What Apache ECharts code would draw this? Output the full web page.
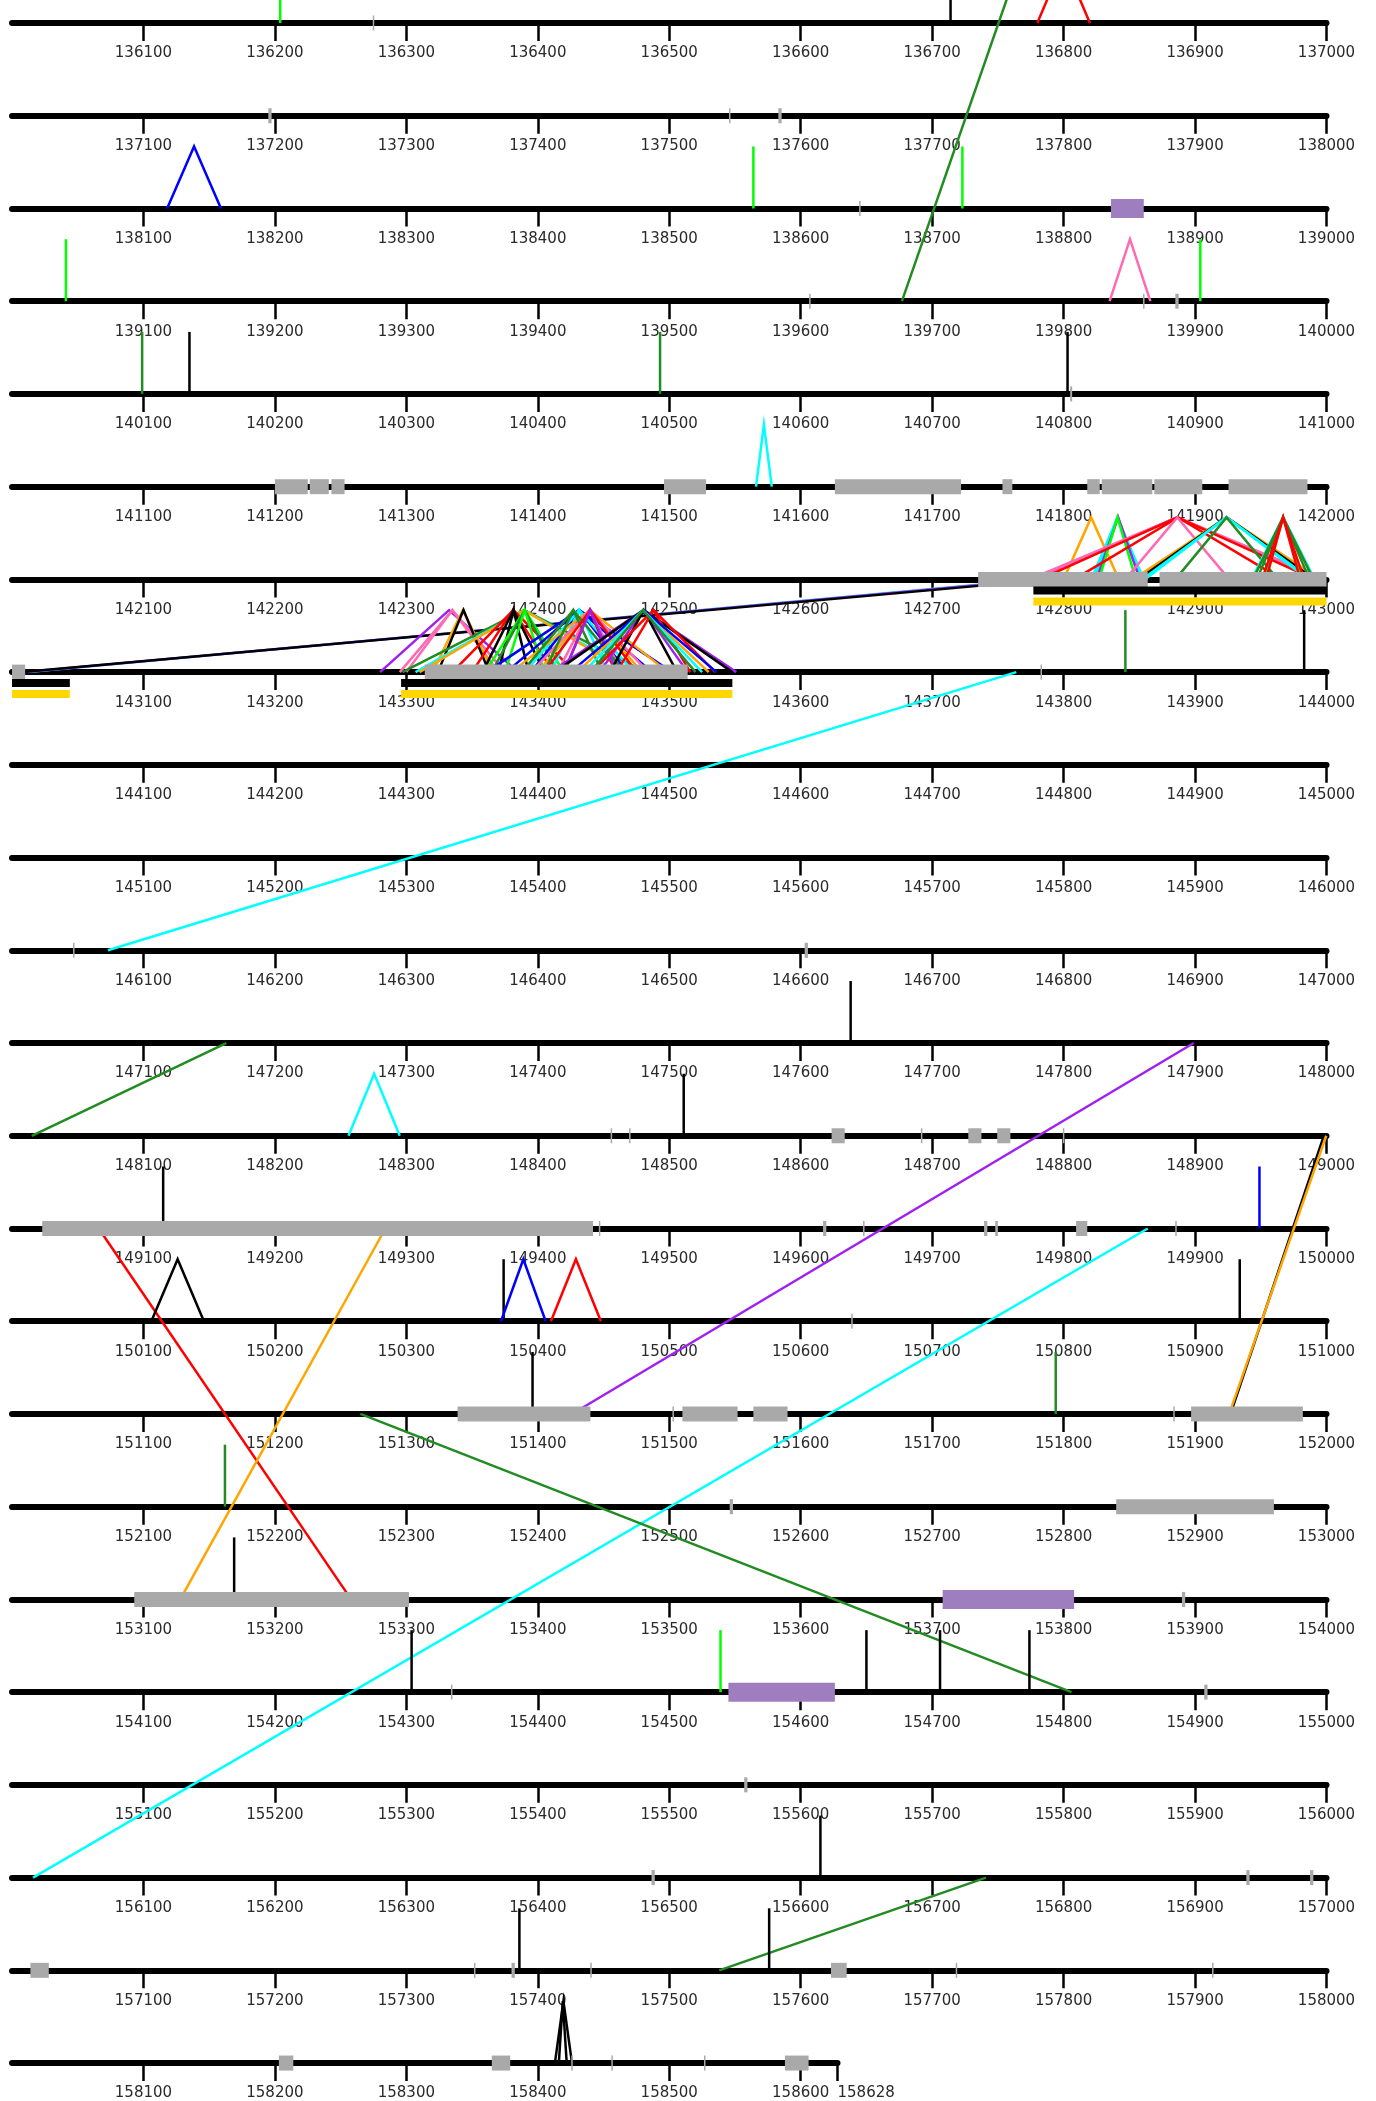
<!DOCTYPE html>
<html><head><meta charset="utf-8">
<script src="https://cdn.jsdelivr.net/npm/echarts@6/dist/echarts.min.js"></script>
<style>html,body{margin:0;padding:0;background:#fff}#c{width:1376px;height:2101px}</style>
</head><body><div id="c"></div>
<script>
// ---------- DATA ----------
const ROW_START = 136000;      // first base of first row
const ROW_LEN = 1000;          // bases per row
const ROW_COUNT = 23;
const SEQ_END = 158628;        // last base

// gray feature boxes [start, end]
const grayBoxes = [
  [136274.5,136275.5],
  [137195,137197.5],[137545.5,137546.5],[137583,137585.5],
  [138644.5,138645.5],
  [139606.5,139607.5],[139860.5,139861.5],[139885,139887.5],
  [140805,140806.5],
  [141200,141225],[141226.5,141241],[141243,141253],[141496,141528],[141626,141722],
  [141753.5,141761],[141818,141827.5],[141829,141867.5],[141869,141905.5],[141925.5,141985.5],
  [142735,142864],[142873,143000],
  [143000,143010],[143314,143514],[143782.5,143783.5],
  [146046.5,146047.5],[146603,146605.5],
  [148455.5,148456.5],[148469.5,148470.5],[148623.5,148633.5],[148691.5,148692.5],
  [148727.5,148737.5],[148749.5,148759.5],[148799.5,148800.5],
  [149023,149442],[149446.5,149447.5],[149617,149619.5],[149647.5,149648.5],
  [149739.5,149742],[149748,149750],[149809.5,149818],[149885,149886],
  [150638.5,150639.5],
  [151339,151440],[151502.5,151503.5],[151510,151552],[151564,151590],[151883.5,151884.5],[151897,151982],
  [152546,152548.5],[152840,152960],
  [153093,153302],[153890,153892.5],
  [154334,154335],[154907,154909.5],
  [155557,155559.5],
  [156486.5,156489],[156939,156941.5],[156987.5,156990],
  [157014,157028],[157351.5,157352.5],[157380,157382.5],[157440,157441],[157623,157635],[157718,157719],[157913,157914],
  [158203,158214],[158365,158379],[158425.5,158426.5],[158456,158457],[158526.5,158527.5],[158588,158606]
];
// purple feature boxes [start, end]
const purpleBoxes = [[138836,138861],[153708,153808],[154545,154626]];
// black and gold bars under the line [start, end]
const blackBars = [[142777,143000],[143000,143044],[143296,143548]];
const goldBars  = [[142777,143000],[143000,143044],[143296,143548]];

// links [posA, posB, colourKey]; same row -> peak, different rows -> straight line
const links = [
  [136204,136204,'lime'],[136714,136714,'black'],[136780,136820,'red'],[139677,135775,'green'],
  [138118,138159,'blue'],[138564,138564,'lime'],[138723,138723,'lime'],
  [139041,139041,'lime'],[139835,139866,'pink'],[139904,139904,'lime'],
  [140099,140099,'green'],[140135,140135,'black'],[140493,140493,'green'],[140803,140803,'black'],
  [141566,141578,'cyan'],
  [143012,142778,'cyan'],[143010,142782,'purple'],[143008,142790,'black'],
  [142800,142842,'orange'],[142821,142861,'cyan'],[142823,142859,'cyan'],[142825,142858,'purple'],
  [142827,142855,'lime'],[142774,142999,'pink'],[142776,142997,'pink'],[142779,142994,'pink'],
  [142782,142991,'red'],[142808,142966,'red'],[142847,142926,'pink'],[142853,142995,'orange'],
  [142855,142993,'orange'],[142857,142991,'black'],[142860,142988,'cyan'],[142862,142986,'cyan'],
  [142885,142963,'green'],[142943,142991,'cyan'],[142944,142990,'green'],[142947,142987,'green'],
  [142953,142981,'lime'],[142951,142983,'red'],[142954,142980,'red'],
  [143280,143385,'purple'],[143295,143375,'pink'],[143300,143370,'pink'],[143320,143366,'orange'],
  [143324,143363,'black'],[143297,143482,'green'],[143307,143472,'cyan'],[143310,143469,'orange'],
  [143335,143428,'red'],[143350,143412,'red'],[143358,143405,'black'],[143370,143393,'black'],
  [143360,143420,'lime'],[143365,143415,'green'],[143375,143405,'lime'],[143361,143502,'blue'],
  [143376,143487,'blue'],[143395,143468,'blue'],[143390,143473,'cyan'],[143410,143453,'cyan'],
  [143380,143499,'orange'],[143400,143479,'orange'],[143395,143484,'pink'],[143415,143464,'pink'],
  [143388,143466,'green'],[143405,143449,'green'],[143405,143475,'red'],[143420,143459,'red'],
  [143420,143460,'purple'],[143410,143551,'purple'],[143413,143548,'black'],[143447,143514,'purple'],
  [143455,143506,'black'],[143441,143535,'red'],[143460,143516,'red'],[143430,143530,'orange'],
  [143425,143536,'blue'],[143435,143525,'cyan'],[143440,143520,'green'],
  [143847,143847,'green'],[143983,143983,'black'],[143764,146073,'cyan'],
  [147638,147638,'black'],[147163,148015,'green'],[147899,151426,'purple'],
  [148256,148295,'cyan'],[148511,148511,'black'],[148998,151927,'black'],[148999.8,151926,'orange'],
  [149115,149115,'black'],[149949,149949,'blue'],[149066,153258,'red'],[149284,153128,'orange'],[149864,156016,'cyan'],
  [150106,150146,'black'],[150374,150374,'black'],[150372,150406,'blue'],[150410,150448,'red'],[150934,150934,'black'],
  [151396,151396,'black'],[151794,151794,'green'],[151265,154806,'green'],
  [152162,152162,'green'],
  [153169,153169,'black'],
  [154304,154304,'black'],[154539,154539,'lime'],[154650,154650,'black'],[154706,154706,'black'],[154774,154774,'black'],
  [156615,156615,'black'],[156741,157538,'green'],
  [157386,157386,'black'],[157576,157576,'black'],
  [158413,158426,'black'],[158416,158422,'black']
];

// ---------- STYLE / LAYOUT ----------
const PALETTE = {lime:'#00ff00',green:'#228b22',black:'#000000',red:'#ff0000',blue:'#0000ff',
  cyan:'#00ffff',pink:'#ff69b4',orange:'#ffa500',purple:'#a020f0'};
const W = 1376, H = 2101;
const LEFT = 12, PX_PER_BP = 1.3145;
const ROW0_Y = 23, ROW_H = 92.73;
const PEAK_PX = 62;
const BOX_STYLE = [
  {color:'#a9a9a9', y0:-7.5, y1:7.5, minW:1.5},   // gray
  {color:'#9e7ebf', y0:-9.5, y1:9.5, minW:1.5},   // purple
  {color:'#000000', y0:7, y1:15, minW:1},         // black bar
  {color:'#ffd700', y0:18, y1:26, minW:1}         // gold bar
];

const rowOf = p => Math.floor((p - ROW_START) / ROW_LEN);
const offOf = (p, r) => p - (ROW_START + r * ROW_LEN);

const boxData = [];
[grayBoxes, purpleBoxes, blackBars, goldBars].forEach((arr, k) => {
  arr.forEach(([s, e]) => {
    const r = rowOf(s);
    boxData.push([r, offOf(s, r), offOf(e, r), k]);
  });
});
const linkData = links.map(([a, b, c]) => {
  const ra = rowOf(a), rb = rowOf(b);
  return {value: [ra, offOf(a, ra), rb, offOf(b, rb)], itemStyle: {color: PALETTE[c]}};
});

const Y_MIN = -ROW0_Y / ROW_H, Y_MAX = (H - ROW0_Y) / ROW_H;
const PEAK = PEAK_PX / ROW_H;

const grids = [], xAxes = [], yAxes = [];
// overlay coordinate system
grids.push({left: LEFT, top: 0, width: ROW_LEN * PX_PER_BP, height: H});
xAxes.push({gridIndex: 0, type: 'value', min: 0, max: ROW_LEN, show: false});
yAxes.push({gridIndex: 0, type: 'value', min: Y_MIN, max: Y_MAX, inverse: true, show: false});

const labelStyle = {fontFamily: 'DejaVu Sans', fontSize: 15, color: '#2a2a2a', margin: 23,
  formatter: v => String(v)};
for (let i = 0; i < ROW_COUNT; i++) {
  const s = ROW_START + i * ROW_LEN, e = Math.min(s + ROW_LEN, SEQ_END);
  const ticks = [];
  for (let t = s + 100; t <= e; t += 100) ticks.push(t);
  const labels = ticks.slice();
  if (e % 100 !== 0) ticks.push(e);
  const y = ROW0_Y + i * ROW_H;
  grids.push({left: LEFT, top: y - 10, width: (e - s) * PX_PER_BP, height: 10});
  const gi = grids.length - 1;
  xAxes.push({gridIndex: gi, type: 'value', min: s, max: e, position: 'bottom',
    axisLine: {show: true, onZero: false, lineStyle: {color: '#000', width: 6}},
    axisTick: {show: true, customValues: ticks, length: 18, lineStyle: {color: '#000', width: 2.5}},
    axisLabel: Object.assign({customValues: labels}, labelStyle),
    splitLine: {show: false}});
  yAxes.push({gridIndex: gi, type: 'value', min: 0, max: 1, show: false});
  if (e % 100 !== 0) {
    xAxes.push({gridIndex: gi, type: 'value', min: s, max: e, position: 'bottom',
      axisLine: {show: false}, axisTick: {show: false}, splitLine: {show: false},
      axisLabel: Object.assign({customValues: [e], align: 'left'}, labelStyle)});
  }
}

const option = {
  animation: false,
  backgroundColor: '#fff',
  grid: grids, xAxis: xAxes, yAxis: yAxes,
  series: [
    {
      type: 'custom', xAxisIndex: 0, yAxisIndex: 0, z: 3,
      data: linkData,
      renderItem: function (params, api) {
        const r1 = api.value(0), x1 = api.value(1), r2 = api.value(2), x2 = api.value(3);
        const color = api.visual('color');
        let pts;
        if (r1 === r2) {
          if (x1 === x2) pts = [api.coord([x1, r1]), api.coord([x1, r1 - PEAK])];
          else pts = [api.coord([x1, r1]), api.coord([(x1 + x2) / 2, r1 - PEAK]), api.coord([x2, r1])];
        } else {
          pts = [api.coord([x1, r1]), api.coord([x2, r2])];
        }
        return {type: 'polyline', shape: {points: pts},
          style: {stroke: color, lineWidth: 2.5, fill: null, lineJoin: 'miter'}};
      }
    },
    {
      type: 'custom', xAxisIndex: 0, yAxisIndex: 0, z: 4,
      data: boxData,
      renderItem: function (params, api) {
        const r = api.value(0), s = api.value(1), e = api.value(2), k = api.value(3);
        const st = BOX_STYLE[k];
        const p1 = api.coord([s, r]), p2 = api.coord([e, r]);
        let w = p2[0] - p1[0], x = p1[0];
        if (w < st.minW) { x = (p1[0] + p2[0]) / 2 - st.minW / 2; w = st.minW; }
        return {type: 'rect', shape: {x: x, y: p1[1] + st.y0, width: w, height: st.y1 - st.y0},
          style: {fill: st.color}};
      }
    }
  ]
};
const chart = echarts.init(document.getElementById('c'), null, {renderer: 'canvas'});
chart.setOption(option);
</script>
</body></html>
